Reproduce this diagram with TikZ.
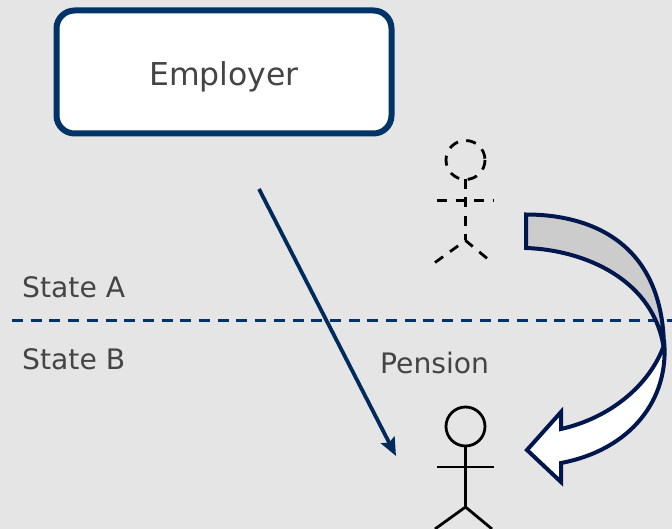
\documentclass[tikz,border=0pt]{standalone}
\usepackage{fontspec}
\setmainfont{DejaVu Sans}
\usepackage{xcolor}
\usepackage{tikz}
\usetikzlibrary{arrows.meta}
\usetikzlibrary{calc}
\definecolor{bggray}{HTML}{E5E5E5}
\definecolor{txtgray}{HTML}{444444}
\definecolor{boxblue}{HTML}{003366}
\definecolor{paynavy}{HTML}{002A5C}
\definecolor{curvenavy}{HTML}{00174D}
\tikzset{
 boxnode/.style={draw=boxblue, line width=6, rounded corners=18, fill=white, minimum width=335, minimum height=123, text=txtgray, text height=32, text depth=4, font=\fontsize{31.5}{36}\selectfont},
 labelnode/.style={anchor=base west, inner sep=0, text=txtgray, font=\fontsize{28.2}{32}\selectfont},
 figline/.style={black, line width=2.8},
 bandline/.style={draw=curvenavy, line width=4, line join=miter}
}
\newcommand{\stickfig}[2]{
 \draw[figline, #2] (465.5,#1-80.5) circle (19.5);
 \draw[figline, #2] (465.5,#1-61.5) -- (465.5,#1);
 \draw[figline, #2] (437,#1-40) -- (494,#1-40);
 \draw[figline, #2] (435,#1+22) -- (465.5,#1) -- (492,#1+22);
}
\begin{document}
\begin{tikzpicture}[x=1pt,y=-1pt]
\useasboundingbox (0,0) rectangle (672,529);
\fill[bggray] (0,0) rectangle (672,529);
\clip (0,0) rectangle (672,529);
\node[boxnode] (employer) at (224,72) {Employer};
\node[labelnode] (statea) at (22,298) {State A};
\node[labelnode] (stateb) at (22,370) {State B};
\node[labelnode] (pension) at (380,373) {Pension};
\coordinate (borderl) at (12,320.5);
\coordinate (borderr) at (672,320.5);
\draw[boxblue, line width=3, dash pattern=on 11 off 7.7] (borderl) -- (borderr);
\coordinate (paystart) at (259,189);
\coordinate (payend) at (396,456);
\draw[paynavy, line width=3.8, -{Stealth[length=18,width=15,inset=3]}] (paystart) -- (payend);
\stickfig{240.5}{dash pattern=on 10 off 8.5}
\stickfig{507}{}
\draw[bandline, fill=white] (664,340) .. controls (670,400) and (630,450) .. (561,463) -- (561,482) -- (527,450) -- (561,412) -- (561,429) .. controls (610,418) and (650,385) .. (664,345) -- cycle;
\draw[bandline, fill=black!20] (526,214.5) .. controls (590,214.5) and (664,242) .. (664,350) .. controls (655,280) and (585,250) .. (526,248) -- cycle;
\end{tikzpicture}
\end{document}
